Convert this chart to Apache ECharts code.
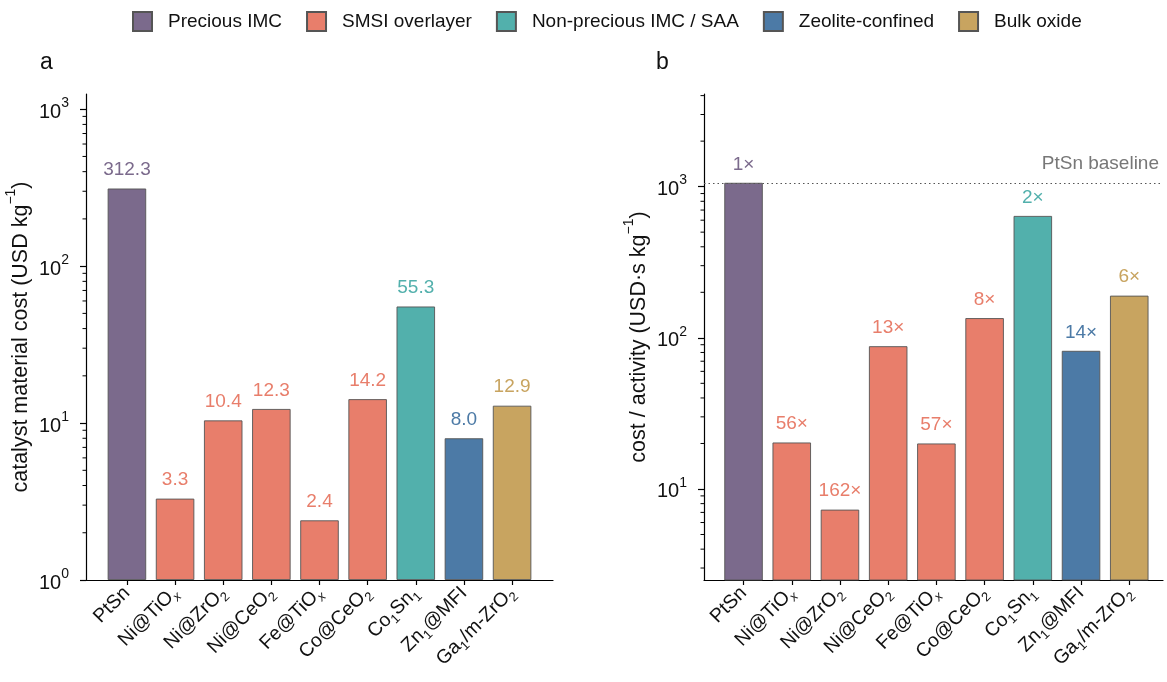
<!DOCTYPE html>
<html><head><meta charset="utf-8">
<script src="https://cdn.jsdelivr.net/npm/echarts@6/dist/echarts.min.js"></script>
<style>html,body{margin:0;padding:0;background:#fff}#c{width:1167px;height:682px}</style>
</head><body><div id="c"></div>
<script>
// ---------- data ----------
const categories = ['PtSn', 'Ni@TiOx', 'Ni@ZrO2', 'Ni@CeO2', 'Fe@TiOx', 'Co@CeO2', 'Co1Sn1', 'Zn1@MFI', 'Ga1/m-ZrO2'];
const categoryRich = ['{m|PtSn}', '{m|Ni@TiO}{i|x}', '{m|Ni@ZrO}{s|2}', '{m|Ni@CeO}{s|2}', '{m|Fe@TiO}{i|x}',
  '{m|Co@CeO}{s|2}', '{m|Co}{s|1}{m|Sn}{s|1}', '{m|Zn}{s|1}{m|@MFI}', '{m|Ga}{s|1}{m|/m-ZrO}{s|2}'];
const groupNames = ['Precious IMC', 'SMSI overlayer', 'Non-precious IMC / SAA', 'Zeolite-confined', 'Bulk oxide'];
const groupColors = ['#7b6a8c', '#e87e6b', '#52b0ac', '#4c7aa6', '#c8a460'];
const categoryGroup = [0, 1, 1, 1, 1, 1, 2, 3, 4];
const materialCost = [312.3, 3.3, 10.4, 12.3, 2.4, 14.2, 55.3, 8.0, 12.9];
const costPerActivity = [1060, 20.3, 7.3, 88, 20.0, 135, 640, 82, 190];
const ratioLabels = [1, 56, 162, 13, 57, 8, 2, 14, 6];
const ptsnBaseline = 1050;
const leftMajorTicks = [1, 10, 100, 1000];
const rightMajorTicks = [10, 100, 1000];

// ---------- helpers ----------
const FONT = '"Liberation Sans", Arial, Helvetica, sans-serif';
const catIdx = categories.map((c, i) => i);
function minorTicks(min, max) {
  const out = [];
  for (let e = -1; e <= 4; e++) for (let k = 2; k <= 9; k++) {
    const v = k * Math.pow(10, e);
    if (v > min && v < max) out.push(v);
  }
  return out;
}
const pow10Label = v => '{b|10}{p|' + Math.round(Math.log10(v)) + '}';
const yLabelRich = {
  b: { fontSize: 20, fontFamily: FONT, color: '#111', lineHeight: 26, verticalAlign: 'bottom' },
  p: { fontSize: 14, fontFamily: FONT, color: '#111', lineHeight: 26, verticalAlign: 'top' }
};
const xLabelRich = {
  m: { fontSize: 19.5, fontFamily: FONT, color: '#111', lineHeight: 26, verticalAlign: 'middle' },
  s: { fontSize: 13, fontFamily: FONT, color: '#111', lineHeight: 26, verticalAlign: 'bottom' },
  i: { fontSize: 13, fontFamily: FONT, fontStyle: 'italic', color: '#111', lineHeight: 26, verticalAlign: 'bottom' }
};

const LEFT = { yMin: 1, yMax: 1250, xMin: -0.85, xMax: 8.85 };
const RIGHT = { yMin: 2.5, yMax: 4100, xMin: -0.82, xMax: 8.7 };

function xAxisDef(gridIndex, cfg) {
  return {
    type: 'value', gridIndex, min: cfg.xMin, max: cfg.xMax,
    splitLine: { show: false },
    axisLine: { show: true, onZero: false, lineStyle: { color: '#000', width: 1.2 } },
    axisTick: { show: true, customValues: catIdx, length: 5, lineStyle: { color: '#000', width: 1.2 } },
    axisLabel: {
      customValues: catIdx, rotate: 45, margin: 10,
      formatter: v => categoryRich[Math.round(v)], rich: xLabelRich
    }
  };
}
function yAxisDef(gridIndex, cfg, majors, name) {
  return {
    type: 'log', logBase: 10, gridIndex, min: cfg.yMin, max: cfg.yMax,
    splitLine: { show: false },
    axisLine: { show: true, onZero: false, lineStyle: { color: '#000', width: 1.2 } },
    axisTick: { show: true, customValues: majors, length: 6, lineStyle: { color: '#000', width: 1.2 } },
    axisLabel: { customValues: majors, formatter: pow10Label, rich: yLabelRich, margin: 17 },
    minorTick: { show: false },
    name: name, nameLocation: 'middle', nameGap: 54, nameRotate: 90,
    nameTextStyle: { rich: {
      t: { fontSize: 21.5, fontFamily: FONT, color: '#111', lineHeight: 28, verticalAlign: 'bottom' },
      u: { fontSize: 14, fontFamily: FONT, color: '#111', lineHeight: 28, verticalAlign: 'top' } } }
  };
}
function minorTickSeries(axisIdx, cfg) {
  return {
    type: 'custom', name: 'minorTicks' + axisIdx, xAxisIndex: axisIdx, yAxisIndex: axisIdx,
    silent: true, clip: false, z: 5,
    encode: { x: 0, y: 1 },
    data: minorTicks(cfg.yMin, cfg.yMax).map(v => [cfg.xMin, v]),
    renderItem: (params, api) => {
      const p = api.coord([api.value(0), api.value(1)]);
      return { type: 'line', shape: { x1: p[0] - 3.5, y1: p[1], x2: p[0], y2: p[1] },
        style: { stroke: '#000', lineWidth: 1 } };
    }
  };
}
function barSeries(axisIdx, values, labelFn) {
  return groupNames.map((g, gi) => ({
    type: 'bar', name: g, xAxisIndex: axisIdx, yAxisIndex: axisIdx,
    barWidth: 38.5, barGap: '-100%', clip: true,
    itemStyle: { color: groupColors[gi], borderColor: '#555', borderWidth: 0.9 },
    label: {
      show: true, position: 'top', distance: 9, color: groupColors[gi],
      fontSize: 19, fontFamily: FONT,
      formatter: p => labelFn(Math.round(p.value[0]))
    },
    data: catIdx.filter(i => categoryGroup[i] === gi).map(i => [i, values[i]])
  }));
}

const series = [
  ...barSeries(0, materialCost, i => materialCost[i].toFixed(1)),
  ...barSeries(1, costPerActivity, i => ratioLabels[i] + '×'),
  minorTickSeries(0, LEFT),
  minorTickSeries(1, RIGHT),
  {
    type: 'line', name: 'baseline', xAxisIndex: 1, yAxisIndex: 1, data: [], silent: true,
    markLine: {
      silent: true, symbol: ['none', 'none'],
      lineStyle: { type: [1.5, 3], color: '#555', width: 1.1 },
      label: { show: true, position: 'insideEndTop', formatter: 'PtSn baseline',
        color: '#777', fontSize: 19, fontFamily: FONT, distance: [4, 10] },
      data: [{ yAxis: ptsnBaseline }]
    }
  }
];

const option = {
  animation: false,
  backgroundColor: '#fff',
  textStyle: { fontFamily: FONT },
  legend: {
    data: groupNames, top: 6, left: 127, itemWidth: 19, itemHeight: 19, itemGap: 24,
    icon: 'rect',
    textStyle: { fontSize: 19, fontFamily: FONT, color: '#111', padding: [0, 0, 0, 11] }
  },
  title: [
    { text: 'a', left: 35, top: 46, textStyle: { fontSize: 23, fontWeight: 'normal', fontFamily: FONT, color: '#111' } },
    { text: 'b', left: 651, top: 46, textStyle: { fontSize: 23, fontWeight: 'normal', fontFamily: FONT, color: '#111' } }
  ],
  grid: [
    { left: 86, top: 94, width: 467, height: 486 },
    { left: 704, top: 94, width: 459, height: 486 }
  ],
  xAxis: [xAxisDef(0, LEFT), xAxisDef(1, RIGHT)],
  yAxis: [
    yAxisDef(0, LEFT, leftMajorTicks, '{t|catalyst material cost (USD kg}{u|−1}{t|)}'),
    yAxisDef(1, RIGHT, rightMajorTicks, '{t|cost / activity (USD·s kg}{u|−1}{t|)}')
  ],
  series
};
const chart = echarts.init(document.getElementById('c'), null, { renderer: 'canvas' });
chart.setOption(option);
</script></body></html>
